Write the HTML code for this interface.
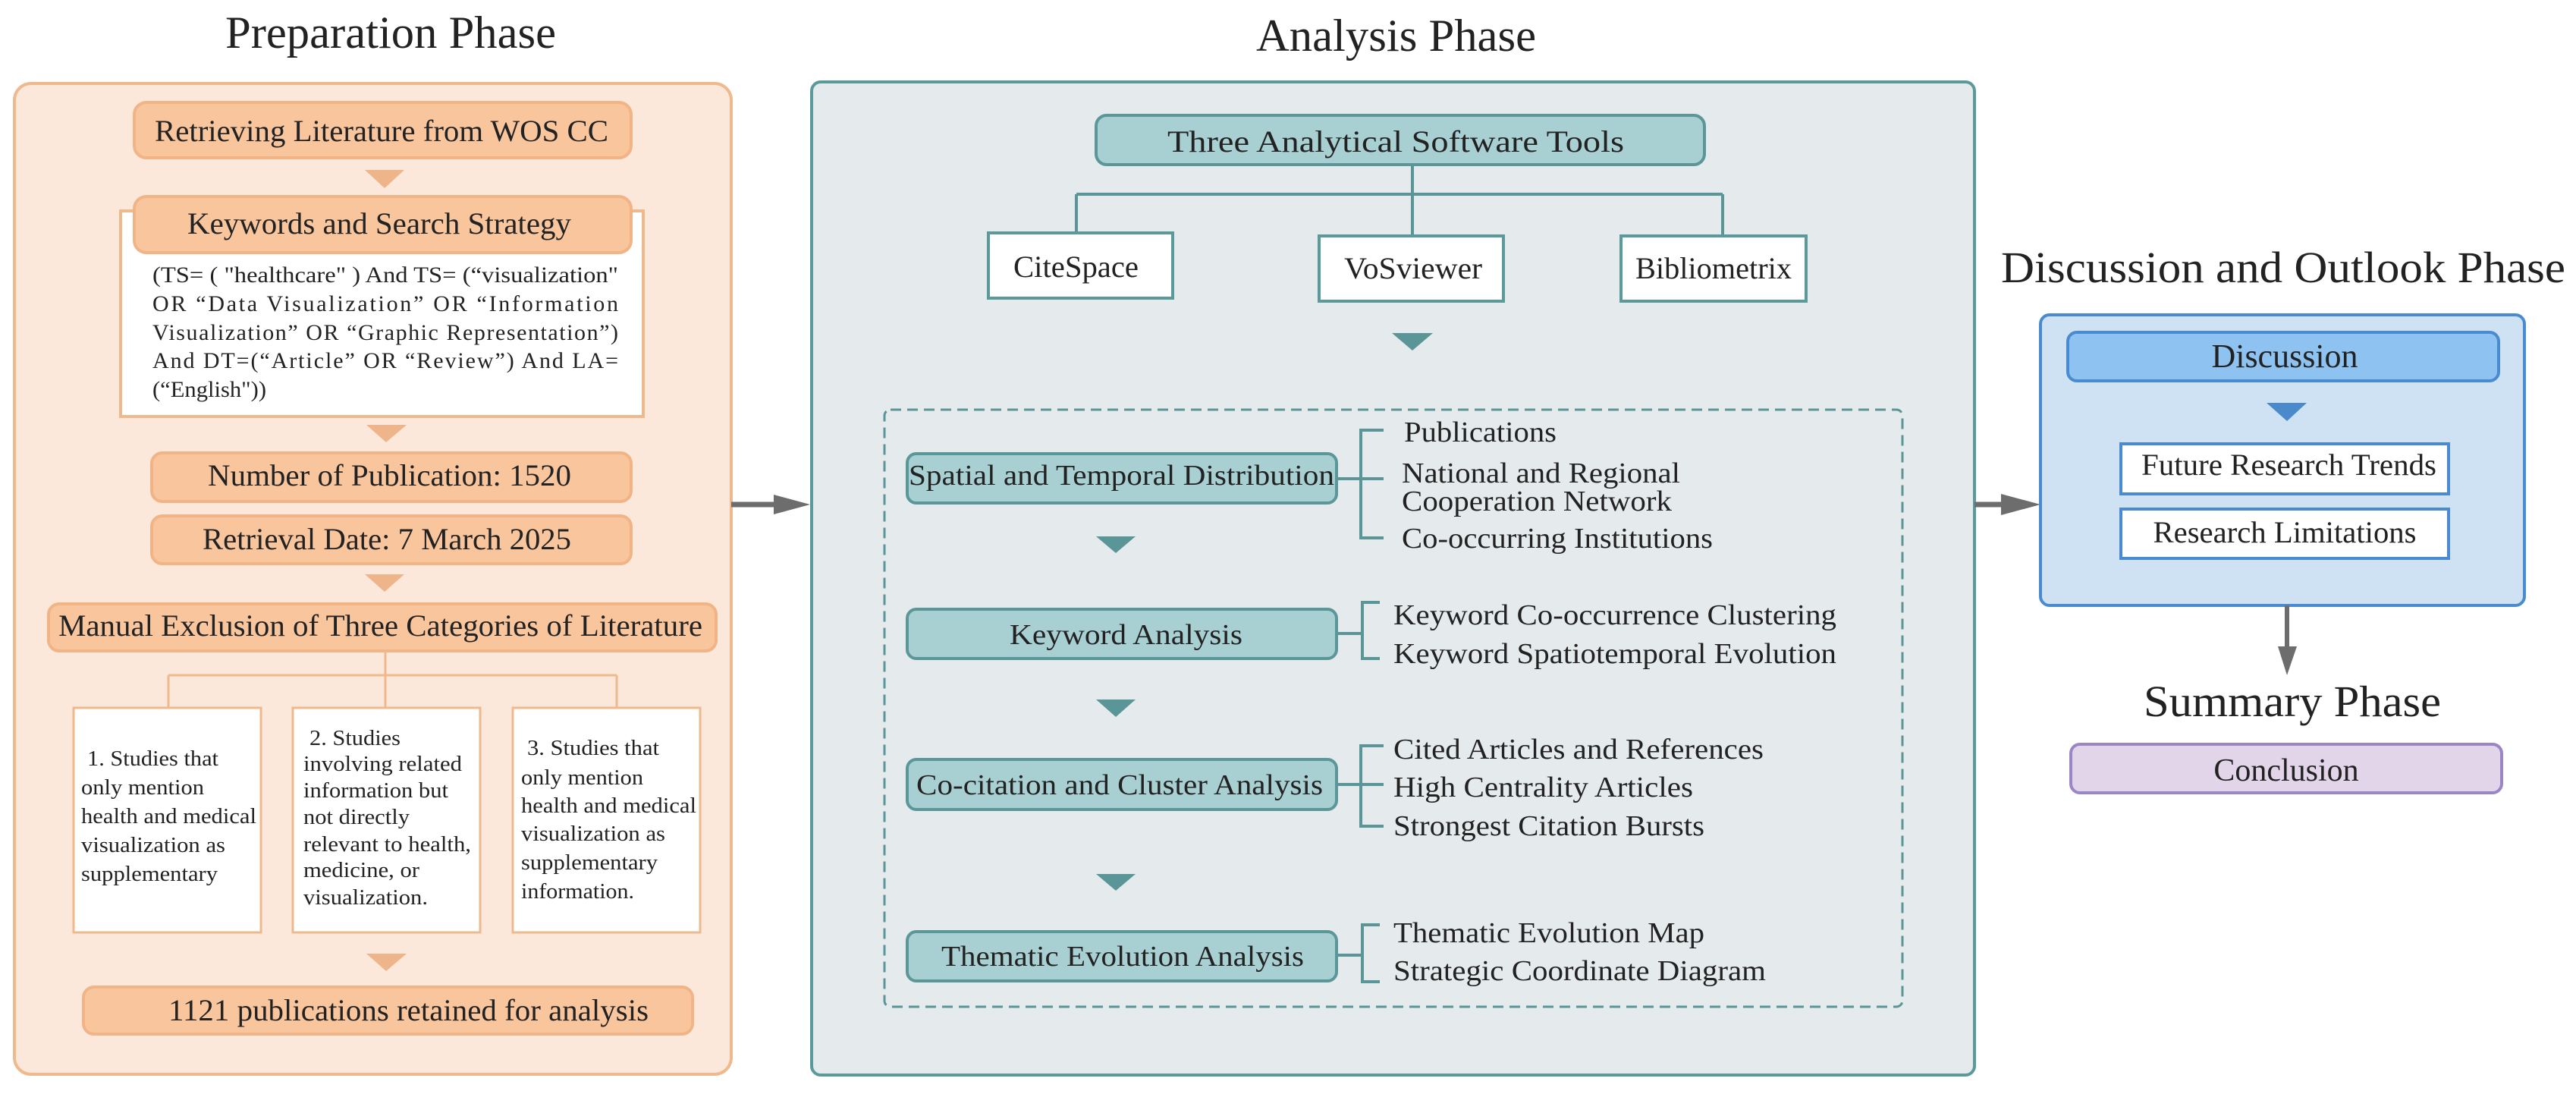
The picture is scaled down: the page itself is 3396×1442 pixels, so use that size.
<!DOCTYPE html>
<html><head><meta charset="utf-8"><style>
html,body{margin:0;padding:0;background:#fff;}
svg{display:block;font-family:"Liberation Serif","DejaVu Serif",serif;}
svg text{font-family:"Liberation Serif","DejaVu Serif",serif;fill:#222;}
</style></head><body>
<svg width="3396" height="1442" viewBox="0 0 3396 1442" xmlns="http://www.w3.org/2000/svg" font-family="Liberation Serif, DejaVu Serif, serif">
<!-- Titles -->
<text x="297" y="63" font-size="60" textLength="436" lengthAdjust="spacingAndGlyphs">Preparation Phase</text>
<text x="1656" y="67" font-size="60" textLength="369" lengthAdjust="spacingAndGlyphs">Analysis Phase</text>
<text x="2638" y="372" font-size="58" textLength="744" lengthAdjust="spacingAndGlyphs">Discussion and Outlook Phase</text>
<text x="2826" y="944" font-size="58" textLength="392" lengthAdjust="spacingAndGlyphs">Summary Phase</text>

<!-- PREPARATION -->
<rect x="19" y="110" width="945" height="1306" rx="22" fill="#fce8da" stroke="#efb98e" stroke-width="4"/>
<rect x="177" y="135" width="655" height="73" rx="16" fill="#f9c59d" stroke="#f0b487" stroke-width="4"/>
<text x="204" y="186" font-size="40" textLength="598" lengthAdjust="spacingAndGlyphs">Retrieving Literature from WOS CC</text>
<polygon points="481,224 533,224 507,248" fill="#eeb48a"/>
<rect x="159" y="278" width="689" height="271" fill="#fff" stroke="#efb98e" stroke-width="4"/>
<rect x="177" y="259" width="655" height="74" rx="16" fill="#f9c59d" stroke="#f0b487" stroke-width="4"/>
<text x="247" y="308" font-size="40" textLength="506" lengthAdjust="spacingAndGlyphs">Keywords and Search Strategy</text>
<g font-size="30">
<text x="201" y="372" textLength="614" lengthAdjust="spacingAndGlyphs">(TS= ( "healthcare" ) And TS= (“visualization"</text>
<text x="201" y="410" textLength="614" lengthAdjust="spacing">OR “Data Visualization” OR “Information</text>
<text x="201" y="448" textLength="614" lengthAdjust="spacing">Visualization” OR “Graphic Representation”)</text>
<text x="201" y="485" textLength="614" lengthAdjust="spacing">And DT=(“Article” OR “Review”) And LA=</text>
<text x="201" y="523" textLength="150" lengthAdjust="spacingAndGlyphs">(“English"))</text>
</g>
<polygon points="483,560 536,560 509,583" fill="#eeb48a"/>
<rect x="200" y="597" width="632" height="64" rx="14" fill="#f9c59d" stroke="#f0b487" stroke-width="4"/>
<text x="274" y="640" font-size="40" textLength="479" lengthAdjust="spacingAndGlyphs">Number of Publication: 1520</text>
<rect x="200" y="680" width="632" height="63" rx="14" fill="#f9c59d" stroke="#f0b487" stroke-width="4"/>
<text x="267" y="724" font-size="40" textLength="486" lengthAdjust="spacingAndGlyphs">Retrieval Date: 7 March 2025</text>
<polygon points="481,757 533,757 507,780" fill="#eeb48a"/>
<rect x="64" y="796" width="880" height="62" rx="14" fill="#f9c59d" stroke="#f0b487" stroke-width="4"/>
<text x="77" y="838" font-size="40" textLength="849" lengthAdjust="spacingAndGlyphs">Manual Exclusion of Three Categories of Literature</text>
<g stroke="#efb98e" stroke-width="3" fill="none">
<line x1="508" y1="858" x2="508" y2="933"/>
<line x1="222" y1="890" x2="813" y2="890"/>
<line x1="222" y1="890" x2="222" y2="933"/>
<line x1="813" y1="890" x2="813" y2="933"/>
</g>
<rect x="97" y="933" width="247" height="296" fill="#fff" stroke="#efb98e" stroke-width="3"/>
<rect x="386" y="933" width="247" height="296" fill="#fff" stroke="#efb98e" stroke-width="3"/>
<rect x="676" y="933" width="247" height="296" fill="#fff" stroke="#efb98e" stroke-width="3"/>
<g font-size="29">
<text x="115" y="1009" textLength="173" lengthAdjust="spacingAndGlyphs">1. Studies that</text>
<text x="107" y="1047" textLength="162" lengthAdjust="spacingAndGlyphs">only mention</text>
<text x="107" y="1085" textLength="231" lengthAdjust="spacingAndGlyphs">health and medical</text>
<text x="107" y="1123" textLength="190" lengthAdjust="spacingAndGlyphs">visualization as</text>
<text x="107" y="1161" textLength="180" lengthAdjust="spacingAndGlyphs">supplementary</text>

<text x="408" y="982" textLength="120" lengthAdjust="spacingAndGlyphs">2. Studies</text>
<text x="400" y="1016" textLength="209" lengthAdjust="spacingAndGlyphs">involving related</text>
<text x="400" y="1051" textLength="191" lengthAdjust="spacingAndGlyphs">information but</text>
<text x="400" y="1086" textLength="140" lengthAdjust="spacingAndGlyphs">not directly</text>
<text x="400" y="1122" textLength="221" lengthAdjust="spacingAndGlyphs">relevant to health,</text>
<text x="400" y="1156" textLength="153" lengthAdjust="spacingAndGlyphs">medicine, or</text>
<text x="400" y="1192" textLength="164" lengthAdjust="spacingAndGlyphs">visualization.</text>

<text x="695" y="995" textLength="174" lengthAdjust="spacingAndGlyphs">3. Studies that</text>
<text x="687" y="1034" textLength="161" lengthAdjust="spacingAndGlyphs">only mention</text>
<text x="687" y="1071" textLength="231" lengthAdjust="spacingAndGlyphs">health and medical</text>
<text x="687" y="1108" textLength="190" lengthAdjust="spacingAndGlyphs">visualization as</text>
<text x="687" y="1146" textLength="180" lengthAdjust="spacingAndGlyphs">supplementary</text>
<text x="687" y="1184" textLength="149" lengthAdjust="spacingAndGlyphs">information.</text>
</g>
<polygon points="483,1257 536,1257 509,1280" fill="#eeb48a"/>
<rect x="110" y="1301" width="803" height="62" rx="14" fill="#f9c59d" stroke="#f0b487" stroke-width="4"/>
<text x="222" y="1345" font-size="40" textLength="633" lengthAdjust="spacingAndGlyphs">1121 publications retained for analysis</text>

<!-- Arrow prep->analysis -->
<line x1="964" y1="665" x2="1025" y2="665" stroke="#6d6d6d" stroke-width="7"/>
<polygon points="1020,652 1068,665 1020,678" fill="#6d6d6d"/>

<!-- ANALYSIS -->
<rect x="1070" y="108" width="1533" height="1309" rx="12" fill="#e5eaec" stroke="#5a9a9b" stroke-width="4"/>
<rect x="1445" y="152" width="802" height="65" rx="14" fill="#a8d0d3" stroke="#5b9698" stroke-width="4"/>
<text x="1539" y="200" font-size="40" textLength="602" lengthAdjust="spacingAndGlyphs">Three Analytical Software Tools</text>
<g stroke="#5a9698" stroke-width="4" fill="none">
<line x1="1862" y1="217" x2="1862" y2="311"/>
<line x1="1419" y1="256" x2="2271" y2="256"/>
<line x1="1419" y1="256" x2="1419" y2="307"/>
<line x1="2271" y1="256" x2="2271" y2="311"/>
</g>
<rect x="1303" y="307" width="243" height="86" fill="#fff" stroke="#5a9a9b" stroke-width="4"/>
<rect x="1739" y="311" width="243" height="86" fill="#fff" stroke="#5a9a9b" stroke-width="4"/>
<rect x="2137" y="311" width="244" height="86" fill="#fff" stroke="#5a9a9b" stroke-width="4"/>
<text x="1336" y="365" font-size="40" textLength="165" lengthAdjust="spacingAndGlyphs">CiteSpace</text>
<text x="1772" y="367" font-size="40" textLength="182" lengthAdjust="spacingAndGlyphs">VoSviewer</text>
<text x="2156" y="367" font-size="40" textLength="206" lengthAdjust="spacingAndGlyphs">Bibliometrix</text>
<polygon points="1835,439 1889,439 1862,462" fill="#5a9698"/>
<rect x="1166" y="540" width="1342" height="787" rx="8" fill="none" stroke="#5a9698" stroke-width="3" stroke-dasharray="14,8"/>

<g fill="#a8d0d3" stroke="#5b9698" stroke-width="4">
<rect x="1196" y="598" width="566" height="65" rx="12"/>
<rect x="1196" y="803" width="566" height="65" rx="12"/>
<rect x="1196" y="1001" width="566" height="66" rx="12"/>
<rect x="1196" y="1228" width="566" height="65" rx="12"/>
</g>
<g font-size="38">
<text x="1198" y="639" textLength="561" lengthAdjust="spacingAndGlyphs">Spatial and Temporal Distribution</text>
<text x="1331" y="849" textLength="307" lengthAdjust="spacingAndGlyphs">Keyword Analysis</text>
<text x="1208" y="1047" textLength="536" lengthAdjust="spacingAndGlyphs">Co-citation and Cluster Analysis</text>
<text x="1241" y="1273" textLength="478" lengthAdjust="spacingAndGlyphs">Thematic Evolution Analysis</text>
</g>
<g stroke="#5a9698" stroke-width="4" fill="none">
<polyline points="1824,567 1794,567 1794,709 1824,709"/>
<line x1="1762" y1="631" x2="1824" y2="631"/>
<polyline points="1819,794 1796,794 1796,868 1819,868"/>
<line x1="1762" y1="835" x2="1796" y2="835"/>
<polyline points="1824,983 1794,983 1794,1089 1824,1089"/>
<line x1="1762" y1="1034" x2="1824" y2="1034"/>
<polyline points="1819,1219 1796,1219 1796,1294 1819,1294"/>
<line x1="1762" y1="1259" x2="1796" y2="1259"/>
</g>
<g font-size="38">
<text x="1851" y="582" textLength="201" lengthAdjust="spacingAndGlyphs">Publications</text>
<text x="1848" y="636" textLength="367" lengthAdjust="spacingAndGlyphs">National and Regional</text>
<text x="1848" y="673" textLength="356" lengthAdjust="spacingAndGlyphs">Cooperation Network</text>
<text x="1848" y="722" textLength="410" lengthAdjust="spacingAndGlyphs">Co-occurring Institutions</text>
<text x="1837" y="823" textLength="584" lengthAdjust="spacingAndGlyphs">Keyword Co-occurrence Clustering</text>
<text x="1837" y="874" textLength="584" lengthAdjust="spacingAndGlyphs">Keyword Spatiotemporal Evolution</text>
<text x="1837" y="1000" textLength="488" lengthAdjust="spacingAndGlyphs">Cited Articles and References</text>
<text x="1837" y="1050" textLength="395" lengthAdjust="spacingAndGlyphs">High Centrality Articles</text>
<text x="1837" y="1101" textLength="410" lengthAdjust="spacingAndGlyphs">Strongest Citation Bursts</text>
<text x="1837" y="1242" textLength="410" lengthAdjust="spacingAndGlyphs">Thematic Evolution Map</text>
<text x="1837" y="1292" textLength="491" lengthAdjust="spacingAndGlyphs">Strategic Coordinate Diagram</text>
</g>
<polygon points="1445,707 1497,707 1471,729" fill="#5a9698"/>
<polygon points="1445,922 1497,922 1471,945" fill="#5a9698"/>
<polygon points="1445,1152 1497,1152 1471,1174" fill="#5a9698"/>

<!-- Arrow analysis->discussion -->
<line x1="2603" y1="665" x2="2645" y2="665" stroke="#6d6d6d" stroke-width="7"/>
<polygon points="2638,651 2690,665 2638,679" fill="#6d6d6d"/>

<!-- DISCUSSION -->
<rect x="2690" y="415" width="638" height="383" rx="12" fill="#cfe2f3" stroke="#4a8ad0" stroke-width="4"/>
<rect x="2726" y="438" width="568" height="64" rx="12" fill="#8ec2f0" stroke="#4a8ad0" stroke-width="4"/>
<text x="3012" y="484" font-size="44" text-anchor="middle">Discussion</text>
<polygon points="2988,531 3041,531 3015,555" fill="#4a89cc"/>
<rect x="2796" y="585" width="432" height="66" fill="#fff" stroke="#4a8ad0" stroke-width="4"/>
<text x="2823" y="626" font-size="40" textLength="389" lengthAdjust="spacingAndGlyphs">Future Research Trends</text>
<rect x="2796" y="671" width="432" height="65" fill="#fff" stroke="#4a8ad0" stroke-width="4"/>
<text x="3012" y="715" font-size="40" text-anchor="middle" textLength="347" lengthAdjust="spacingAndGlyphs">Research Limitations</text>

<line x1="3015" y1="798" x2="3015" y2="858" stroke="#6d6d6d" stroke-width="6"/>
<polygon points="3003,852 3028,852 3015,890" fill="#6d6d6d"/>

<rect x="2730" y="981" width="568" height="64" rx="12" fill="#e2d5ea" stroke="#9a86c4" stroke-width="4"/>
<text x="3014" y="1029" font-size="42" text-anchor="middle">Conclusion</text>
</svg>
</body></html>
